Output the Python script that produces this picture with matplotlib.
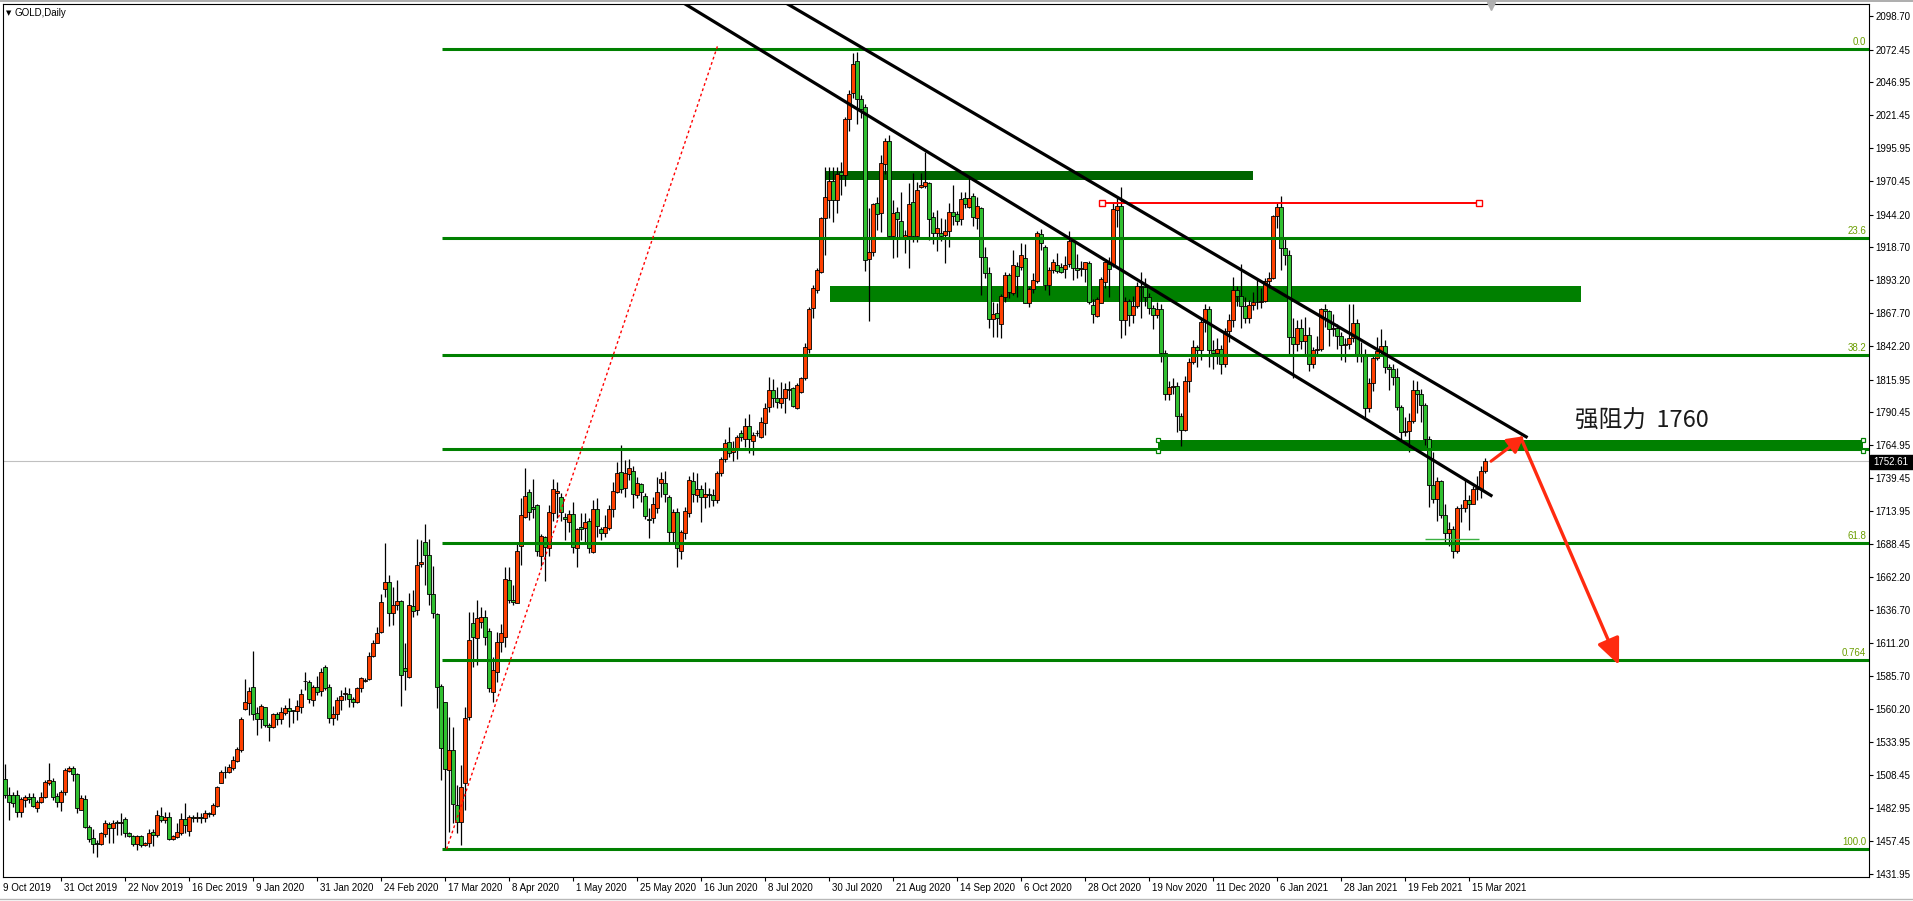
import matplotlib
matplotlib.use("Agg")
import matplotlib.pyplot as plt
from matplotlib.patches import Rectangle, FancyArrowPatch
from matplotlib.transforms import blended_transform_factory
import numpy as np

plt.rcParams["font.family"] = ["Liberation Sans", "DejaVu Sans"]

# daily GOLD bars, bar 1 = 10 Oct 2019 ... bar 372 = 18 Mar 2021
opens = [
    1505.2, 1505.2, 1493.0, 1493.0, 1493.0, 1480.1, 1489.2, 1491.2, 1491.2, 1483.2,
    1487.6, 1491.2, 1502.6, 1503.7, 1492.3, 1487.6, 1495.6, 1512.0, 1514.0, 1509.4,
    1481.4, 1489.7, 1467.9, 1459.4, 1455.5, 1455.2, 1462.5, 1470.2, 1467.1, 1472.1,
    1471.0, 1474.1, 1463.3, 1460.9, 1454.7, 1460.9, 1453.9, 1455.5, 1464.5, 1461.7,
    1477.0, 1473.6, 1475.7, 1458.8, 1460.7, 1463.3, 1474.1, 1465.3, 1475.7, 1475.2,
    1475.7, 1474.9, 1478.8, 1478.1, 1484.8, 1502.7, 1510.7, 1510.7, 1513.8, 1519.8,
    1528.1, 1559.7, 1564.3, 1577.0, 1556.6, 1551.9, 1561.2, 1547.2, 1545.7, 1556.0,
    1551.9, 1556.6, 1560.4, 1558.9, 1558.1, 1561.7, 1581.4, 1580.7, 1566.7, 1577.0,
    1573.9, 1592.8, 1577.0, 1552.7, 1555.8, 1566.7, 1571.3, 1571.6, 1567.7, 1565.6,
    1576.0, 1581.9, 1583.0, 1600.9, 1611.5, 1619.5, 1652.9, 1658.4, 1634.8, 1640.5,
    1643.6, 1591.8, 1585.1, 1640.0, 1636.9, 1672.4, 1690.0, 1679.6, 1649.1, 1633.5,
    1577.8, 1565.1, 1512.5, 1528.1, 1485.3, 1472.4, 1502.7, 1553.5, 1626.5, 1614.9,
    1627.8, 1631.7, 1620.3, 1573.4, 1588.4, 1611.8, 1616.2, 1660.0, 1644.7, 1642.6,
    1686.6, 1709.4, 1728.3, 1716.7, 1718.2, 1678.9, 1693.4, 1684.8, 1712.0, 1728.1,
    1725.0, 1709.4, 1705.5, 1711.2, 1685.3, 1701.6, 1700.9, 1706.1, 1682.2, 1715.1,
    1699.8, 1697.0, 1700.6, 1715.1, 1728.3, 1743.9, 1731.5, 1742.3, 1745.2, 1726.0,
    1734.8, 1725.2, 1707.4, 1708.7, 1715.9, 1735.3, 1735.3, 1724.5, 1697.8, 1712.8,
    1682.7, 1696.5, 1712.0, 1736.9, 1726.0, 1730.7, 1725.0, 1727.0, 1726.0, 1722.0,
    1743.0, 1754.0, 1767.7, 1759.9, 1761.3, 1774.7, 1769.6, 1779.9, 1768.5, 1774.7,
    1771.6, 1782.0, 1794.4, 1807.9, 1801.9, 1797.5, 1801.4, 1808.7, 1809.2, 1793.7,
    1806.1, 1817.0, 1839.5, 1871.4, 1885.6, 1899.9, 1941.3, 1955.6, 1970.4, 1955.6,
    1977.6, 1975.0, 2018.3, 2038.5, 2063.6, 2034.1, 2027.6, 1909.5, 1914.9, 1953.5,
    1945.7, 1983.6, 2001.4, 1927.6, 1946.0, 1939.3, 1927.1, 1927.6, 1953.8, 1927.6,
    1965.4, 1966.5, 1968.5, 1942.1, 1930.2, 1929.7, 1928.1, 1931.5, 1946.0, 1944.4,
    1940.6, 1956.9, 1950.4, 1958.7, 1941.3, 1949.1, 1911.5, 1899.1, 1862.8, 1867.5,
    1859.2, 1880.4, 1897.0, 1883.5, 1904.3, 1903.8, 1910.3, 1875.8, 1886.1, 1892.9,
    1928.9, 1919.3, 1889.5, 1901.2, 1905.1, 1903.3, 1901.7, 1905.8, 1923.9, 1903.0,
    1902.0, 1901.7, 1906.4, 1873.9, 1865.7, 1875.8, 1891.6, 1905.8, 1905.1, 1947.8,
    1951, 1862, 1877, 1866, 1873, 1889, 1888, 1880, 1872, 1866,
    1871, 1837, 1805, 1810, 1811, 1788, 1777, 1815, 1830, 1841,
    1839, 1861, 1871, 1839, 1837, 1840, 1828, 1854, 1862, 1886,
    1881, 1873, 1864, 1874, 1876, 1876, 1877, 1893, 1895, 1943,
    1950, 1918, 1913, 1849, 1844, 1856, 1846, 1851, 1828, 1839,
    1840, 1871, 1869, 1855, 1856, 1850, 1843, 1844, 1848, 1860,
    1836, 1835, 1794, 1813, 1833, 1838, 1842, 1826, 1824, 1818,
    1795, 1775, 1776, 1784, 1808, 1805, 1796, 1770, 1734, 1723,
    1737, 1711, 1697, 1700, 1683, 1716, 1716, 1722, 1719, 1731,
    1731, 1745,
]
highs = [
    1512.5, 1517.1, 1499.5, 1495.6, 1496.9, 1491.8, 1493.0, 1494.3, 1494.3, 1489.2,
    1495.6, 1504.7, 1518.2, 1506.0, 1494.3, 1496.9, 1513.8, 1515.6, 1515.6, 1510.4,
    1493.0, 1493.0, 1469.7, 1466.4, 1458.1, 1464.5, 1473.6, 1472.3, 1473.6, 1473.6,
    1478.8, 1475.7, 1464.5, 1462.0, 1462.0, 1462.0, 1456.8, 1466.4, 1466.4, 1481.4,
    1484.0, 1480.1, 1480.1, 1462.0, 1471.0, 1478.8, 1486.6, 1477.5, 1477.5, 1480.1,
    1478.8, 1481.4, 1480.1, 1486.6, 1500.4, 1512.5, 1515.6, 1517.1, 1523.5, 1530.6,
    1553.7, 1583.3, 1576.8, 1605.0, 1561.2, 1563.8, 1561.7, 1549.3, 1556.6, 1557.9,
    1561.2, 1563.0, 1568.2, 1559.2, 1566.9, 1575.5, 1588.7, 1582.5, 1578.3, 1585.6,
    1591.8, 1593.9, 1579.4, 1562.3, 1569.5, 1574.7, 1576.8, 1576.0, 1569.5, 1577.3,
    1585.1, 1583.8, 1604.5, 1613.6, 1623.9, 1649.1, 1688.7, 1664.1, 1655.0, 1660.2,
    1644.7, 1611.0, 1649.9, 1652.4, 1692.0, 1691.0, 1704.0, 1692.0, 1671.1, 1634.3,
    1579.4, 1565.6, 1554.0, 1546.2, 1500.9, 1516.4, 1561.7, 1635.6, 1635.6, 1644.7,
    1639.0, 1636.9, 1622.6, 1600.6, 1620.0, 1626.0, 1670.0, 1670.6, 1656.3, 1690.0,
    1723.7, 1747.5, 1730.7, 1738.4, 1719.3, 1696.0, 1694.4, 1718.5, 1738.4, 1736.1,
    1728.1, 1712.0, 1714.6, 1721.1, 1700.4, 1712.5, 1712.0, 1708.1, 1722.4, 1723.7,
    1701.1, 1710.7, 1718.5, 1736.6, 1751.9, 1765.1, 1753.5, 1754.3, 1748.8, 1740.0,
    1735.3, 1728.0, 1715.9, 1725.0, 1740.5, 1744.4, 1745.2, 1726.3, 1715.1, 1715.9,
    1699.1, 1716.7, 1741.0, 1744.4, 1743.6, 1734.0, 1736.0, 1732.0, 1731.0, 1745.0,
    1756.0, 1770.0, 1779.4, 1768.0, 1772.9, 1777.0, 1785.9, 1789.2, 1775.5, 1776.8,
    1787.2, 1797.5, 1817.7, 1816.2, 1810.5, 1814.4, 1813.1, 1815.1, 1810.5, 1813.1,
    1818.3, 1844.2, 1872.7, 1889.5, 1902.5, 1942.6, 1981.5, 1981.5, 1981.5, 1981.5,
    1985.4, 2019.8, 2041.1, 2070.1, 2070.9, 2037.2, 2030.2, 1949.1, 1953.0, 1957.7,
    1990.6, 2003.5, 2006.1, 1955.6, 1950.0, 1962.0, 1932.3, 1968.5, 1976.3, 1969.8,
    1976.3, 1993.2, 1969.8, 1946.5, 1947.8, 1941.3, 1940.6, 1953.0, 1967.2, 1947.0,
    1962.0, 1962.0, 1972.4, 1961.3, 1958.2, 1950.4, 1919.3, 1903.8, 1876.6, 1875.8,
    1882.5, 1899.9, 1899.1, 1916.7, 1907.6, 1921.9, 1921.1, 1888.0, 1898.6, 1931.8,
    1932.8, 1920.6, 1903.8, 1909.5, 1914.1, 1906.9, 1912.0, 1931.8, 1926.6, 1913.6,
    1908.4, 1907.6, 1908.4, 1878.4, 1880.4, 1896.0, 1907.6, 1911.5, 1953.0, 1958.2,
    1966, 1880, 1879, 1881, 1892, 1900, 1895, 1883, 1874, 1876,
    1875, 1839, 1815, 1817, 1814, 1790, 1819, 1833, 1847, 1843,
    1864, 1875, 1873, 1847, 1848, 1843, 1856, 1867, 1896, 1889,
    1906, 1880, 1878, 1884, 1894, 1887, 1895, 1900, 1944, 1953,
    1959, 1927, 1917, 1864, 1862, 1863, 1865, 1857, 1841, 1850,
    1872, 1875, 1870, 1867, 1859, 1853, 1848, 1875, 1875, 1863,
    1845, 1840, 1817, 1836, 1849, 1855, 1847, 1828, 1828, 1825,
    1796, 1787, 1790, 1816, 1815, 1809, 1798, 1772, 1760, 1740,
    1738, 1719, 1705, 1702, 1718, 1719, 1739, 1726, 1733, 1741,
    1749, 1755,
]
lows = [
    1499.5, 1490.5, 1473.6, 1484.0, 1476.2, 1476.2, 1484.0, 1487.0, 1484.0, 1480.1,
    1486.6, 1490.5, 1500.8, 1489.2, 1484.0, 1480.9, 1493.0, 1511.2, 1504.2, 1478.8,
    1481.0, 1467.1, 1456.8, 1447.7, 1445.1, 1454.2, 1460.7, 1455.5, 1456.0, 1462.0,
    1462.0, 1460.7, 1460.7, 1453.4, 1450.3, 1452.9, 1453.4, 1452.4, 1453.4, 1460.7,
    1472.3, 1471.0, 1458.1, 1458.1, 1459.4, 1462.0, 1463.3, 1461.2, 1472.3, 1472.3,
    1471.0, 1472.4, 1476.2, 1476.7, 1483.7, 1502.0, 1506.5, 1509.9, 1512.5, 1518.8,
    1526.2, 1559.2, 1555.3, 1551.4, 1539.7, 1544.9, 1546.2, 1535.3, 1544.9, 1547.5,
    1548.3, 1555.3, 1545.7, 1549.3, 1551.4, 1556.6, 1574.7, 1564.3, 1562.3, 1570.8,
    1570.0, 1574.7, 1548.8, 1547.2, 1551.4, 1559.2, 1566.9, 1561.7, 1561.7, 1564.3,
    1573.4, 1580.7, 1582.5, 1600.1, 1611.0, 1618.8, 1647.3, 1624.7, 1625.2, 1636.9,
    1562.5, 1574.7, 1583.8, 1631.2, 1633.0, 1670.6, 1656.3, 1640.8, 1630.4, 1560.4,
    1504.8, 1451.0, 1464.6, 1471.1, 1463.3, 1454.2, 1481.4, 1551.4, 1592.3, 1594.1,
    1623.0, 1609.7, 1573.4, 1565.6, 1581.2, 1604.5, 1608.4, 1642.0, 1640.8, 1642.0,
    1671.9, 1708.1, 1706.8, 1708.1, 1678.9, 1671.1, 1659.7, 1678.9, 1706.3, 1708.1,
    1706.3, 1691.3, 1697.8, 1680.9, 1670.0, 1691.3, 1688.7, 1681.5, 1681.5, 1693.9,
    1691.3, 1693.4, 1699.1, 1708.9, 1727.6, 1727.6, 1725.0, 1738.0, 1715.9, 1723.7,
    1721.1, 1707.4, 1693.1, 1704.8, 1712.5, 1725.0, 1721.1, 1688.7, 1687.9, 1670.0,
    1676.3, 1691.8, 1708.9, 1721.1, 1721.1, 1705.0, 1716.0, 1717.0, 1718.0, 1720.0,
    1741.0, 1752.0, 1756.0, 1753.0, 1754.0, 1768.0, 1763.3, 1758.7, 1757.4, 1772.1,
    1770.3, 1772.9, 1791.1, 1795.0, 1793.7, 1793.7, 1789.8, 1800.1, 1794.4, 1792.9,
    1805.2, 1815.7, 1836.4, 1863.6, 1883.0, 1898.6, 1912.8, 1941.3, 1938.7, 1945.2,
    1959.5, 1966.5, 2009.5, 2034.6, 2014.7, 2019.1, 1900.7, 1861.8, 1912.0, 1932.3,
    1931.0, 1975.8, 1925.0, 1910.2, 1911.0, 1926.6, 1914.1, 1902.5, 1923.2, 1923.2,
    1964.6, 1964.6, 1924.5, 1921.4, 1916.2, 1924.0, 1906.4, 1919.3, 1936.1, 1936.1,
    1936.1, 1949.1, 1949.1, 1935.4, 1932.8, 1881.7, 1894.7, 1855.8, 1849.3, 1849.3,
    1848.0, 1876.6, 1879.1, 1881.7, 1880.4, 1901.2, 1875.3, 1872.7, 1883.0, 1890.8,
    1916.7, 1885.6, 1881.7, 1898.6, 1899.1, 1898.6, 1894.7, 1903.8, 1893.4, 1894.7,
    1896.5, 1892.1, 1874.7, 1859.7, 1864.9, 1875.3, 1886.9, 1880.4, 1903.8, 1934.8,
    1848, 1851, 1858, 1860, 1872, 1864, 1873, 1867, 1855, 1864,
    1830, 1800, 1800, 1805, 1775, 1764, 1776, 1806, 1828, 1826,
    1831, 1853, 1826, 1824, 1828, 1820, 1826, 1845, 1857, 1873,
    1856, 1860, 1860, 1870, 1871, 1872, 1876, 1887, 1894, 1934,
    1901, 1905, 1836, 1817, 1838, 1840, 1835, 1823, 1825, 1835,
    1838, 1857, 1842, 1850, 1840, 1831, 1830, 1840, 1845, 1830,
    1830, 1785, 1791, 1807, 1831, 1836, 1821, 1808, 1812, 1792,
    1768, 1772, 1760, 1782, 1790, 1783, 1765, 1717, 1720, 1706,
    1708, 1688, 1687, 1677, 1681, 1705, 1713, 1699, 1719, 1722,
    1724, 1743,
]
closes = [
    1504.7, 1493.0, 1487.9, 1487.1, 1480.1, 1489.7, 1491.2, 1490.2, 1484.5, 1487.6,
    1491.2, 1503.4, 1504.7, 1491.8, 1487.3, 1495.1, 1512.5, 1514.0, 1509.4, 1483.2,
    1490.5, 1467.9, 1458.6, 1455.2, 1454.7, 1463.3, 1471.0, 1467.1, 1471.0, 1471.0,
    1472.1, 1463.3, 1461.4, 1454.7, 1460.9, 1453.9, 1455.5, 1463.3, 1462.0, 1477.2,
    1473.6, 1475.7, 1458.8, 1460.9, 1464.0, 1474.1, 1469.5, 1475.7, 1475.2, 1475.7,
    1475.2, 1478.8, 1478.0, 1485.3, 1499.1, 1510.7, 1511.2, 1514.6, 1520.3, 1528.6,
    1552.2, 1565.1, 1573.7, 1555.8, 1551.9, 1562.3, 1547.2, 1545.7, 1555.8, 1551.9,
    1557.3, 1560.4, 1558.1, 1558.1, 1562.3, 1571.3, 1581.7, 1567.4, 1577.0, 1573.4,
    1588.4, 1576.0, 1552.7, 1555.8, 1566.7, 1569.8, 1572.1, 1567.4, 1565.1, 1576.0,
    1584.3, 1582.5, 1600.9, 1611.0, 1619.3, 1642.8, 1658.4, 1634.3, 1640.8, 1644.1,
    1586.1, 1589.2, 1640.8, 1636.4, 1671.9, 1674.2, 1679.6, 1649.1, 1634.8, 1576.8,
    1529.4, 1513.6, 1528.1, 1485.8, 1472.4, 1499.6, 1552.7, 1613.3, 1615.6, 1630.4,
    1631.2, 1616.2, 1576.0, 1590.2, 1611.8, 1618.8, 1660.7, 1644.7, 1643.4, 1682.7,
    1710.5, 1725.5, 1713.3, 1715.1, 1683.0, 1694.4, 1685.6, 1712.8, 1730.7, 1729.1,
    1713.1, 1707.4, 1711.2, 1685.6, 1699.6, 1700.1, 1705.0, 1684.8, 1715.1, 1702.4,
    1696.5, 1701.1, 1715.1, 1729.6, 1743.1, 1731.2, 1743.6, 1747.0, 1726.8, 1735.3,
    1728.3, 1709.7, 1706.8, 1719.3, 1728.3, 1738.4, 1726.8, 1697.8, 1712.8, 1684.8,
    1697.3, 1713.6, 1737.7, 1726.8, 1730.7, 1725.0, 1727.0, 1726.0, 1722.0, 1743.0,
    1754.0, 1766.4, 1759.2, 1761.8, 1771.1, 1771.6, 1779.9, 1769.6, 1772.9, 1774.2,
    1782.8, 1793.7, 1807.9, 1801.9, 1798.8, 1801.9, 1808.7, 1808.0, 1795.5, 1811.5,
    1817.0, 1841.1, 1870.9, 1886.9, 1901.2, 1941.3, 1957.7, 1970.4, 1955.6, 1975.8,
    1975.0, 2018.5, 2038.0, 2061.3, 2034.1, 2026.1, 1908.9, 1914.9, 1952.2, 1944.5,
    1984.1, 2001.4, 1927.6, 1945.2, 1940.6, 1927.1, 1928.4, 1952.5, 1927.6, 1963.4,
    1967.2, 1969.3, 1940.6, 1929.7, 1933.6, 1927.9, 1931.5, 1946.0, 1943.4, 1939.5,
    1956.1, 1952.5, 1957.4, 1942.6, 1950.9, 1911.0, 1899.1, 1862.8, 1866.7, 1863.6,
    1880.9, 1897.0, 1884.3, 1905.1, 1896.5, 1912.6, 1875.8, 1886.1, 1893.4, 1929.7,
    1921.9, 1889.5, 1901.2, 1907.6, 1900.7, 1899.9, 1905.1, 1923.9, 1903.0, 1901.2,
    1902.7, 1907.1, 1876.1, 1866.7, 1878.4, 1894.2, 1907.1, 1901.7, 1948.6, 1950.9,
    1862, 1877, 1866, 1873, 1889, 1888, 1880, 1872, 1866, 1871,
    1837, 1805, 1810, 1811, 1788, 1777, 1815, 1830, 1841, 1839,
    1861, 1871, 1839, 1837, 1840, 1828, 1854, 1862, 1886, 1881,
    1873, 1864, 1874, 1876, 1876, 1877, 1893, 1895, 1943, 1950,
    1918, 1913, 1849, 1844, 1856, 1846, 1851, 1828, 1839, 1840,
    1871, 1869, 1855, 1856, 1850, 1843, 1844, 1848, 1860, 1836,
    1835, 1794, 1813, 1833, 1838, 1842, 1826, 1824, 1818, 1795,
    1775, 1776, 1784, 1808, 1805, 1796, 1770, 1734, 1723, 1737,
    1711, 1697, 1700, 1683, 1716, 1716, 1722, 1719, 1731, 1731,
    1745, 1752.61,
]

date_labels = [
    "9 Oct 2019", "31 Oct 2019", "22 Nov 2019", "16 Dec 2019", "9 Jan 2020",
    "31 Jan 2020", "24 Feb 2020", "17 Mar 2020", "8 Apr 2020", "1 May 2020",
    "25 May 2020", "16 Jun 2020", "8 Jul 2020", "30 Jul 2020", "21 Aug 2020",
    "14 Sep 2020", "6 Oct 2020", "28 Oct 2020", "19 Nov 2020", "11 Dec 2020",
    "6 Jan 2021", "28 Jan 2021", "19 Feb 2021", "15 Mar 2021",
]
price_ticks = [
    "2098.70", "2072.45", "2046.95", "2021.45", "1995.95", "1970.45", "1944.20",
    "1918.70", "1893.20", "1867.70", "1842.20", "1815.95", "1790.45", "1764.95",
    "1739.45", "1713.95", "1688.45", "1662.20", "1636.70", "1611.20", "1585.70",
    "1560.20", "1533.95", "1508.45", "1482.95", "1457.45", "1431.95",
]

fib_high = 2073.0
fib_low = 1451.0
fib_levels = [0.0, 23.6, 38.2, 50.0, 61.8, 76.4, 100.0]
fib_texts = ["0.0", "23.6", "38.2", "", "61.8", "0.764", "100.0"]

bid_price = 1752.61

o = np.array(opens)
h = np.array(highs)
l = np.array(lows)
c = np.array(closes)
x = np.arange(1, len(c) + 1)

W, H = 1913, 901
fig = plt.figure(figsize=(W / 100, H / 100), dpi=100)
fig.patch.set_facecolor("white")
ax = fig.add_axes([3 / W, 24 / H, 1866 / W, 873 / H])
ax.set_xlim(1.5, 468)
ax.set_ylim(1429.3, 2107.95)
ax.set_facecolor("white")
for s in ax.spines.values():
    s.set_color("black")
    s.set_linewidth(0.8)

# background rectangles (zones)
ax.add_patch(Rectangle((207.3, 1971.1), 314 - 207.3, 7.3, color="#006400", zorder=1, lw=0))
ax.add_patch(Rectangle((208.2, 1876.6), 396 - 208.2, 12.1, color="#008000", zorder=1, lw=0))
ax.add_patch(Rectangle((290.2, 1760.5), 466.5 - 290.2, 8.5, color="#008000", zorder=1, lw=0))
for xx in (290.2, 466.5):
    ax.plot([xx, xx], [1769.0, 1760.5], ls="none", marker="s", ms=3.5, mfc="white",
            mec="#008000", mew=0.9, zorder=6, clip_on=False)

ax.axhline(bid_price, color="#c0c0c0", lw=0.8, zorder=1.5)

# candles: red = up, green = down
up = c >= o
body_col = np.where(up, "#ff4000", "#30c030")
ax.vlines(x, l, h, color="black", lw=0.9, zorder=2.5)
ax.bar(x, np.maximum(np.abs(c - o), 0.5), bottom=np.minimum(o, c), width=0.78,
       color=body_col, edgecolor="black", linewidth=0.6, zorder=3)

# fibonacci retracement
fib_x0 = 111.2
for lev, txt in zip(fib_levels, fib_texts):
    y = fib_high - (fib_high - fib_low) * lev / 100.0
    ax.hlines(y, fib_x0, 468, color="#008000", lw=2.2, zorder=4)
    if txt:
        ax.text(467.3, y + 1.6, txt, ha="right", va="bottom", fontsize=7,
                color="#6b9e00", zorder=7)
ax.plot([112.4, 180.1], [fib_low, 2075.0], color="#ff0000", lw=1.0,
        ls=(0, (2, 2)), zorder=4.5)

# small line at the double bottom
ax.hlines(1691.8, 357, 370.4, color="#3cb043", lw=1.0, zorder=4.2)

# red horizontal line
ax.plot([276.2, 370.4], [1953.5, 1953.5], color="#ff0000", lw=1.4, zorder=5)
ax.plot([276.2, 370.4], [1953.5, 1953.5], ls="none", marker="s", ms=4, mfc="white",
        mec="#ff0000", mew=1.0, zorder=5.5)

# trend channel
ax.plot([171.9, 373.5], [2108.2, 1725.9], color="black", lw=2.3, zorder=5)
ax.plot([197.5, 382.3], [2108.2, 1771.5], color="black", lw=2.3, zorder=5)

# arrows
arrow_col = "#ff2a10"
ax.add_patch(FancyArrowPatch((373.5, 1752.5), (381.8, 1772.0),
                             arrowstyle="-|>,head_length=0.55,head_width=0.3",
                             mutation_scale=18, color=arrow_col, lw=2.2, zorder=6,
                             shrinkA=0, shrinkB=0))
ax.add_patch(FancyArrowPatch((381.0, 1770.5), (405.5, 1594.1),
                             arrowstyle="-|>,head_length=0.8,head_width=0.35",
                             mutation_scale=20, color=arrow_col, lw=2.4, zorder=6,
                             shrinkA=0, shrinkB=0))

ax.text(394.5, 1783.8, "强阻力  1760", fontsize=17, ha="left", va="center",
        family=["Noto Sans CJK SC", "DejaVu Sans"], color="#1a1a1a", zorder=7)

# chart shift marker
ax.plot([373.5], [2106.2], marker="v", ms=6, color="#b0b0b0", ls="none",
        clip_on=False, zorder=7)

# price axis on the right
ax.yaxis.tick_right()
ax.set_yticks([float(t) for t in price_ticks])
ax.set_yticklabels(price_ticks)
ax.tick_params(axis="y", direction="out", length=3, width=0.8, labelsize=7, pad=1.5)

# time axis
tick_idx = [16 * k for k in range(len(date_labels))]
ax.set_xticks([t for t in tick_idx if t > 1.5])
ax.set_xticklabels([])
ax.tick_params(axis="x", direction="out", length=3, width=0.8)
tr = blended_transform_factory(ax.transData, ax.transAxes)
for t, lab in zip(tick_idx, date_labels):
    ax.text(max(t, 0.9) + 0.7, -0.0125, lab, transform=tr, ha="left", va="center",
            fontsize=7, clip_on=False)

# current price label
fig.patches.append(Rectangle((1870 / W, 1 - 469 / H), 43 / W, 14 / H,
                             transform=fig.transFigure, color="black", zorder=10))
fig.text(1873 / W, 1 - 462 / H, "1752.61", color="white", fontsize=7,
         va="center", ha="left", zorder=11)

# title
fig.text(6 / W, 1 - 13 / H, "▼", fontsize=5, va="center", ha="left",
         family=["DejaVu Sans"])
fig.text(15 / W, 1 - 13 / H, "GOLD,Daily", fontsize=7, va="center", ha="left")

# window edges
fig.add_artist(plt.Line2D([0, 1], [1 - 0.5 / H, 1 - 0.5 / H], transform=fig.transFigure,
                          color="#a0a0a0", lw=1.2))
fig.add_artist(plt.Line2D([0, 1], [2.5 / H, 2.5 / H], transform=fig.transFigure,
                          color="#b8b8b8", lw=1.0))

fig.savefig("out.png", dpi=100)
